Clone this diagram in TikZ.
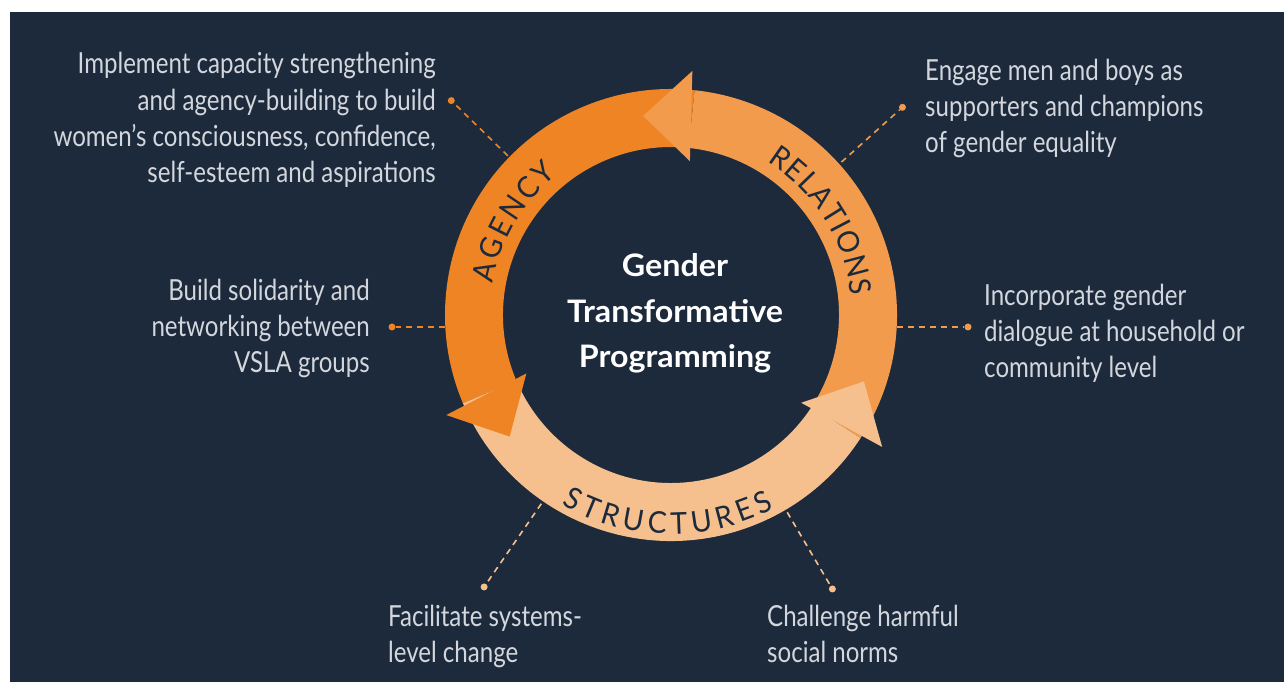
\documentclass[tikz,border=0pt]{standalone}
\usepackage{fontspec}
\setmainfont{Lato}
\newfontfamily\bodyfont{Lato}[FakeStretch=0.83]
\newfontfamily\titlefont{Lato}[FakeStretch=1.04]
\newfontfamily\ringfont{Lato}[FakeStretch=0.95]
\usetikzlibrary{decorations.text}
\definecolor{bg}{HTML}{1C2A3C}
\definecolor{agencyc}{HTML}{EE8424}
\definecolor{relc}{HTML}{F29B4C}
\definecolor{strc}{HTML}{F6C08E}
\definecolor{txt}{HTML}{D3D7DD}
\tikzset{
  bodytext/.style={text=txt, inner sep=0pt, font=\bodyfont\fontsize{29}{36.4}\selectfont},
  dotnode/.style={circle, inner sep=0pt, minimum size=7pt},
  conn/.style={line width=1.6pt, dash pattern=on 6pt off 5pt},
  ringlabel/.style={decorate, decoration={text along path, text align=fit to path, text color=bg}},
}
\begin{document}
\begin{tikzpicture}[x=1pt,y=1pt]
\useasboundingbox (0,0) rectangle (1284,682);
\fill[white] (0,0) rectangle (1284,682);
\fill[bg] (10,0) rectangle (1284,670);
\coordinate (C) at (671,367);

\begin{scope}[shift={(C)}]
  % bodies
  \fill[agencyc] (84:226) arc[start angle=84,end angle=203,radius=226] -- (203:168) arc[start angle=203,end angle=84,radius=168] -- cycle;
  \fill[relc] (-33:226) arc[start angle=-33,end angle=84,radius=226] -- (84:168) arc[start angle=84,end angle=-33,radius=168] -- cycle;
  \fill[strc] (203:226) arc[start angle=203,end angle=327,radius=226] -- (327:168) arc[start angle=327,end angle=203,radius=168] -- cycle;
  % heads
  \fill[relc] (85:245) -- (98:201) -- (83:155) -- cycle;
  \fill[agencyc] (204:246) -- (217:202) -- (202:156) -- cycle;
  \fill[strc] (-34:157) -- (-19:204) -- (-32:249) -- cycle;
  % ring labels
  \path[ringlabel, decoration={text={|\ringfont\fontsize{30}{32}\selectfont|AGENCY}}]
    (170:181) arc[start angle=170, end angle=129, radius=181];
  \path[ringlabel, decoration={text={|\ringfont\fontsize{30}{32}\selectfont|RELATIONS}}]
    (58:181) arc[start angle=58, end angle=6, radius=181];
  \path[ringlabel, decoration={text={|\ringfont\fontsize{30}{32}\selectfont|STRUCTURES}}]
    (240:219) arc[start angle=240, end angle=298, radius=219];
  % connector end points and dots
  \coordinate (ra) at (135.7:228);
  \node[dotnode, fill=agencyc] (da) at (135.7:307) {};
  \coordinate (rr) at (41.9:229);
  \node[dotnode, fill=relc] (dr) at (41.9:311) {};
  \coordinate (rl) at (-225.7,-12);
  \node[dotnode, fill=agencyc] (dl) at (-279,-12) {};
  \coordinate (rrt) at (225.7,-12);
  \node[dotnode, fill=relc] (drt) at (297,-12) {};
  \coordinate (rbl) at (235.5:229);
  \node[dotnode, fill=strc] (dbl) at (235.5:330) {};
  \coordinate (rbr) at (-59.5:229);
  \node[dotnode, fill=strc] (dbr) at (-59.5:318) {};
\end{scope}

\draw[conn, agencyc] (ra) -- (da);
\draw[conn, relc] (rr) -- (dr);
\draw[conn, agencyc] (rl) -- (dl);
\draw[conn, relc] (rrt) -- (drt);
\draw[conn, strc] (rbl) -- (dbl);
\draw[conn, strc] (rbr) -- (dbr);

\node[text=white, inner sep=0pt, align=center, anchor=base, font=\titlefont\bfseries\fontsize{31}{45.5}\selectfont] (title) at (675,314) {Gender\\Transformative\\Programming};

\node[bodytext, align=right, anchor=base east] (t1) at (436,499) {Implement capacity strengthening\\and agency-building to build\\women’s consciousness, confidence,\\self-esteem and aspirations};
\node[bodytext, align=left, anchor=base west] (t2) at (925,529) {Engage men and boys as\\supporters and champions\\of gender equality};
\node[bodytext, align=right, anchor=base east] (t3) at (370,309) {Build solidarity and\\networking between\\VSLA groups};
\node[bodytext, align=left, anchor=base west] (t4) at (984,304) {Incorporate gender\\dialogue at household or\\community level};
\node[bodytext, align=left, anchor=base west] (t5) at (388,19) {Facilitate systems-\\level change};
\node[bodytext, align=left, anchor=base west] (t6) at (767,19) {Challenge harmful\\social norms};
\end{tikzpicture}
\end{document}
